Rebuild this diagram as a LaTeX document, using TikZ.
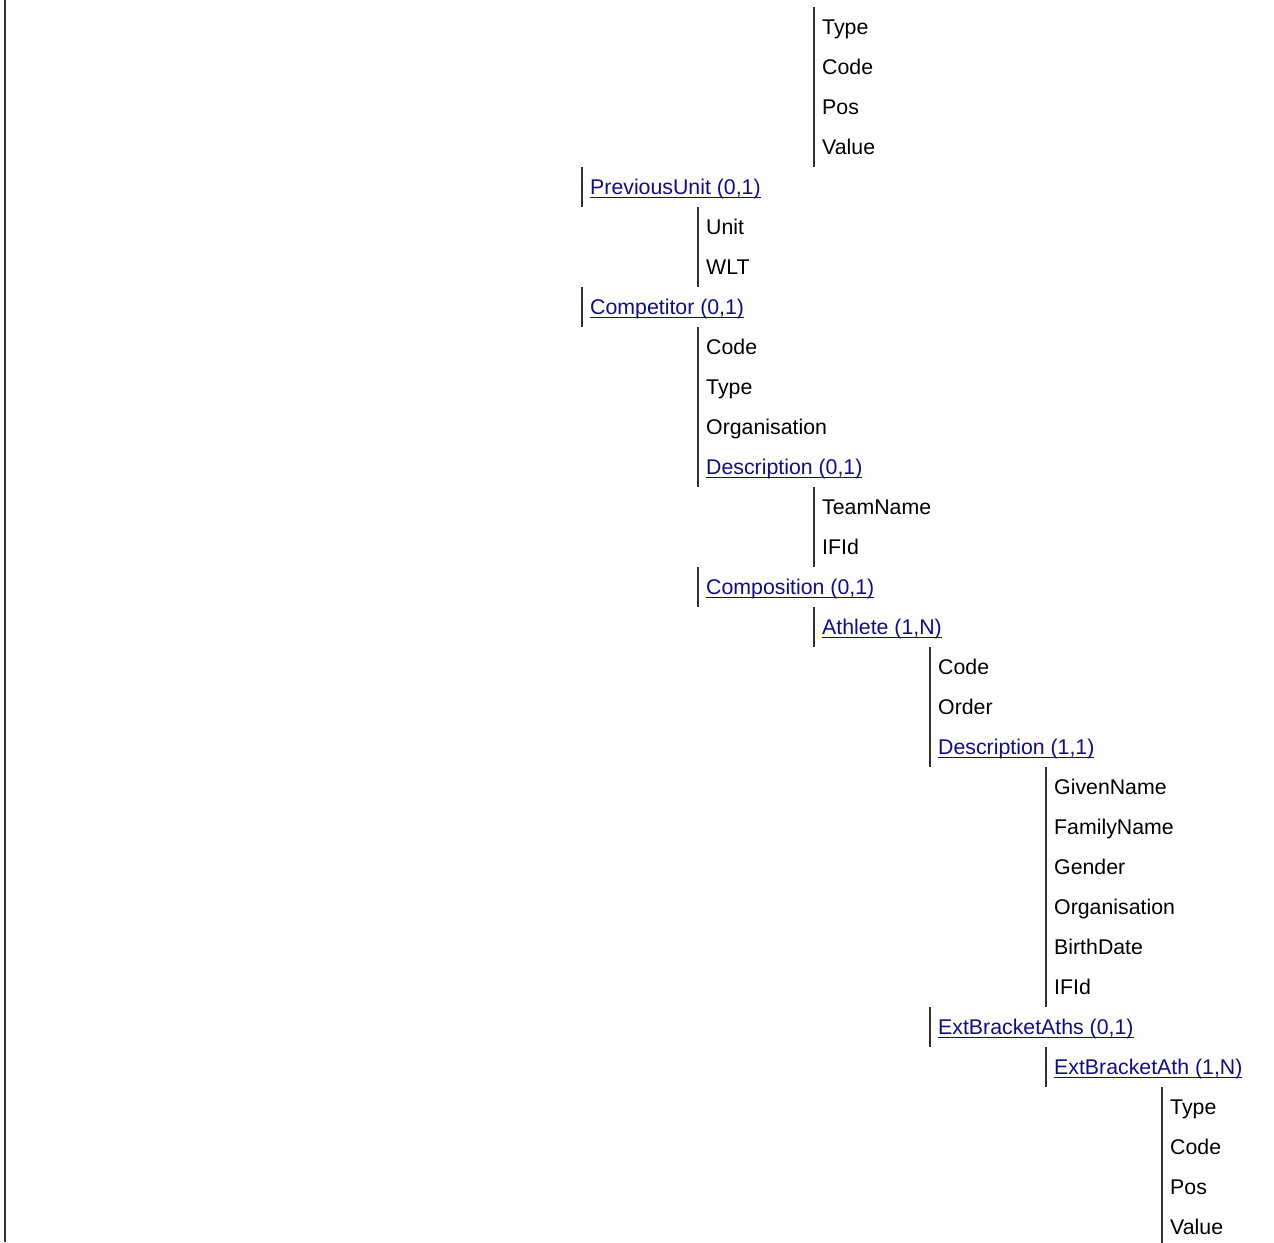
\documentclass[tikz,border=0pt]{standalone}
\usepackage{fontspec}
\setmainfont{Liberation Sans}
\usepackage{tikz}
\definecolor{linkblue}{RGB}{14,14,138}
\definecolor{ink}{RGB}{0,0,0}
\definecolor{rule}{RGB}{50,50,50}
\setlength{\parindent}{0pt}
\newcommand\linktext[1]{\setbox0\hbox{#1}\rlap{\rule[-3.4pt]{\wd0}{1.3pt}}\box0}

\begin{document}
\begin{tikzpicture}[x=1pt, y=1pt,
    every node/.style={font=\fontsize{21.3pt}{24pt}\selectfont},
    row/.style={anchor=west, inner xsep=8pt, inner ysep=0pt,
        minimum height=40pt, text height=15pt, text depth=0pt,
        append after command={(\tikzlastnode.north west)
            edge[bar] (\tikzlastnode.south west)}},
    bar/.style={draw=rule, line width=1.3pt},
    field/.style={row, text=ink},
    link/.style={row, text=linkblue}]
  \useasboundingbox (0,0) rectangle (1274,-1242);
  % root bar
  \coordinate (top) at (5,0);
  \coordinate (bottom) at (5,-1242);
  \draw[bar] (top) -- (bottom);
  % rows: level/text/style
  \foreach \k/\t/\s [count=\i from 0] in {
      2/Type/field, 2/Code/field, 2/Pos/field, 2/Value/field,
      0/{PreviousUnit (0,1)}/link, 1/Unit/field, 1/WLT/field,
      0/{Competitor (0,1)}/link, 1/Code/field, 1/Type/field,
      1/Organisation/field, 1/{Description (0,1)}/link,
      2/TeamName/field, 2/IFId/field,
      1/{Composition (0,1)}/link, 2/{Athlete (1,N)}/link,
      3/Code/field, 3/Order/field, 3/{Description (1,1)}/link,
      4/GivenName/field, 4/FamilyName/field, 4/Gender/field,
      4/Organisation/field, 4/BirthDate/field, 4/IFId/field,
      3/{ExtBracketAths (0,1)}/link, 4/{ExtBracketAth (1,N)}/link,
      5/Type/field, 5/Code/field, 5/Pos/field, 5/Value/field} {
    \ifnum\pdfstrcmp{\s}{link}=0
      \node[link] (row\i) at ({582+116*\k}, {-27-40*\i}) {\linktext{\t}};
    \else
      \node[field] (row\i) at ({582+116*\k}, {-27-40*\i}) {\t};
    \fi
  }
\end{tikzpicture}
\end{document}
